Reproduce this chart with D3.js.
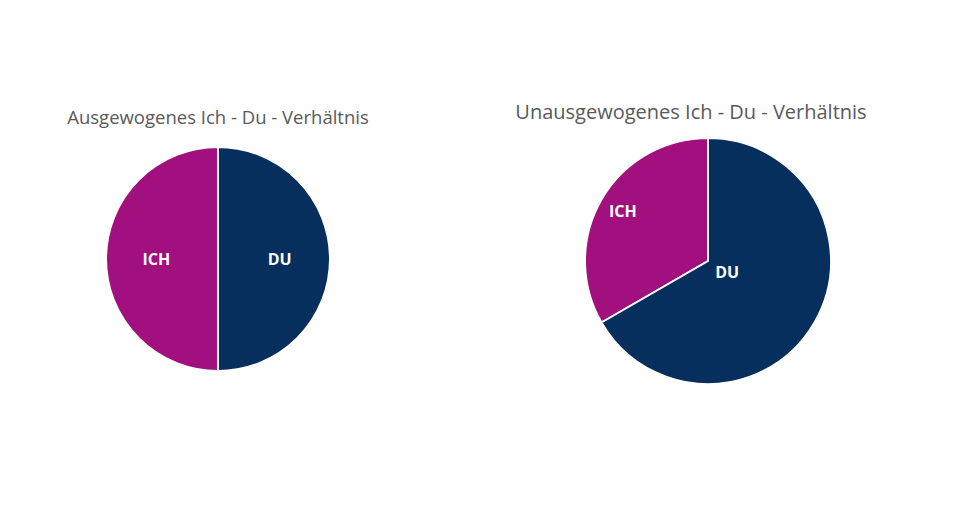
<!DOCTYPE html>
<html>
<head>
<meta charset="utf-8">
<script src="https://cdn.jsdelivr.net/npm/d3@7"></script>
<style>
  body { margin: 0; background: #fff; }
  svg { display: block; }
</style>
</head>
<body>
<svg id="chart" width="972" height="530"></svg>
<script>
// data
var categories = ["ICH", "DU"];
var titles = ["Ausgewogenes Ich - Du - Verhältnis", "Unausgewogenes Ich - Du - Verhältnis"];
var balancedValues = [50, 50];
var unbalancedValues = [1, 2];

var colors = { ICH: "#a20f7f", DU: "#062f5e" };

var svg = d3.select("#chart");

var charts = [
  { title: titles[0], values: balancedValues, cx: 218, cy: 259, r: 112, ty: 124, fs: 18.5, labelK: [0.55, 0.55] },
  { title: titles[1], values: unbalancedValues, cx: 708, cy: 261, r: 123, ty: 119, fs: 20, tx: 691, labelK: [0.8, 0.18] }
];

var pie = d3.pie().sort(null).startAngle(0).endAngle(-2 * Math.PI)
  .value(function (d) { return d.value; });

charts.forEach(function (c) {
  var data = categories.map(function (name, i) { return { name: name, value: c.values[i] }; });
  // draw DU clockwise from the top, ICH counterclockwise
  var arcs = pie(data);

  var g = svg.append("g").attr("transform", "translate(" + c.cx + "," + c.cy + ")");
  var arc = d3.arc().innerRadius(0).outerRadius(c.r);

  g.selectAll("path")
    .data(arcs)
    .enter().append("path")
    .attr("d", arc)
    .attr("fill", function (d) { return colors[d.data.name]; })
    .attr("stroke", "#fff")
    .attr("stroke-width", 2);

  g.selectAll("text")
    .data(arcs)
    .enter().append("text")
    .attr("transform", function (d, i) {
      var k = c.labelK[i];
      var la = d3.arc().innerRadius(c.r * k).outerRadius(c.r * k);
      return "translate(" + la.centroid(d) + ")";
    })
    .attr("text-anchor", "middle")
    .attr("dy", "0.35em")
    .attr("fill", "#fff")
    .style("font-family", "'Open Sans', sans-serif")
    .style("font-weight", "bold")
    .style("font-size", "16px")
    .text(function (d) { return d.data.name; });

  svg.append("text")
    .attr("x", c.tx || c.cx)
    .attr("y", c.ty)
    .attr("text-anchor", "middle")
    .attr("fill", "#595959")
    .style("font-family", "'Open Sans', sans-serif")
    .style("font-size", c.fs + "px")
    .text(c.title);
});
</script>
</body>
</html>
